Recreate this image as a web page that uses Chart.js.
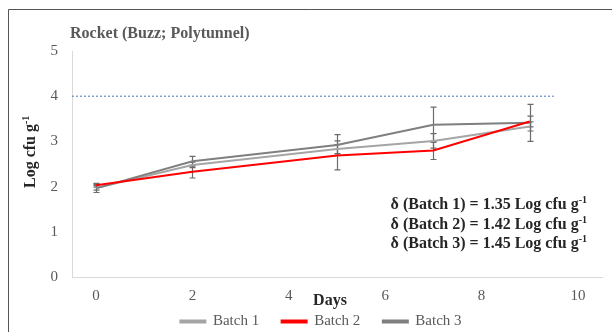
<!DOCTYPE html>
<html>
<head>
<meta charset="utf-8">
<script src="https://cdn.jsdelivr.net/npm/chart.js@4.4.0/dist/chart.umd.min.js"></script>
<style>
  body { margin: 0; background: #fff; }
  #wrap { width: 612px; height: 332px; }
</style>
</head>
<body>
<div id="wrap"><canvas id="rocket"></canvas></div>
<script>
// values
const days = [0, 2, 5, 7, 9];
const batch1 = [1.97, 2.48, 2.83, 3.01, 3.33];
const batch2 = [2.03, 2.33, 2.69, 2.80, 3.44];
const batch3 = [1.96, 2.56, 2.92, 3.37, 3.41];
const err1 = [0.05, 0.06, 0.10, 0.16, 0.10];
const err2 = [0.04, 0.14, 0.32, 0.20, 0.12];
const err3 = [0.09, 0.11, 0.23, 0.39, 0.41];
const seriesNames = ['Batch 1', 'Batch 2', 'Batch 3'];
const deltas = [1.35, 1.42, 1.45];
const limitY = 4;
const limitX = [-0.5, 9.5];
const xTicks = [0, 2, 4, 6, 8, 10];
const yTicks = [0, 1, 2, 3, 4, 5];

const serif = 'Liberation Serif';

function pts(xs, ys) {
  return xs.map((x, i) => ({x: x, y: ys[i]}));
}

function lineSet(label, ys, err, color, order) {
  return {
    label: label,
    data: pts(days, ys),
    errors: err,
    borderColor: color,
    backgroundColor: color,
    borderWidth: 2,
    pointRadius: 0,
    tension: 0,
    order: order
  };
}

// superscripted "g-1" helper
function supText(ctx, main, x, y, size) {
  ctx.font = 'bold ' + size + 'px "' + serif + '"';
  ctx.fillText(main, x, y);
  const w = ctx.measureText(main).width;
  ctx.font = 'bold ' + Math.round(size * 0.62) + 'px "' + serif + '"';
  ctx.fillText('-1', x + w, y - 6);
}

// error bars + text annotations
const extras = {
  id: 'extras',
  beforeDatasetsDraw(chart) {
    const ctx = chart.ctx;
    const xs = chart.scales.x, ys = chart.scales.y;
    ctx.save();
    ctx.strokeStyle = '#6b6b6b';
    ctx.lineWidth = 1.2;
    chart.data.datasets.forEach(ds => {
      if (!ds.errors) return;
      ds.data.forEach((p, i) => {
        const e = ds.errors[i];
        const px = Math.round(xs.getPixelForValue(p.x)) + 0.5;
        const top = ys.getPixelForValue(p.y + e);
        const bot = ys.getPixelForValue(p.y - e);
        ctx.beginPath();
        ctx.moveTo(px, top); ctx.lineTo(px, bot);
        ctx.moveTo(px - 3, top); ctx.lineTo(px + 3, top);
        ctx.moveTo(px - 3, bot); ctx.lineTo(px + 3, bot);
        ctx.stroke();
      });
    });
    ctx.restore();
  },
  afterDraw(chart) {
    const ctx = chart.ctx;
    ctx.save();
    // frame
    ctx.strokeStyle = '#555';
    ctx.lineWidth = 1;
    ctx.beginPath();
    ctx.moveTo(8.5, 332); ctx.lineTo(8.5, 9.5); ctx.lineTo(612, 9.5);
    ctx.stroke();

    // title
    ctx.fillStyle = '#595959';
    ctx.font = 'bold 16px "' + serif + '"';
    ctx.textBaseline = 'alphabetic';
    ctx.textAlign = 'left';
    ctx.fillText('Rocket (Buzz; Polytunnel)', 70, 38);

    // x title
    ctx.fillStyle = '#262626';
    ctx.textAlign = 'center';
    ctx.fillText('Days', 330, 305);

    // y title
    ctx.save();
    ctx.translate(35, 188);
    ctx.rotate(-Math.PI / 2);
    ctx.textAlign = 'left';
    supText(ctx, 'Log cfu g', 0, 0, 16);
    ctx.restore();

    // delta annotations, right aligned
    ctx.textAlign = 'left';
    deltas.forEach((d, i) => {
      const y = 209 + i * 19.5;
      const main = '\u03b4 (' + seriesNames[i] + ') = ' + d.toFixed(2) + ' Log cfu g';
      ctx.font = 'bold 16px "' + serif + '"';
      const mw = ctx.measureText(main).width;
      ctx.font = 'bold 10px "' + serif + '"';
      const sw = ctx.measureText('-1').width;
      supText(ctx, main, 587 - mw - sw, y, 16);
    });
    ctx.restore();
  }
};

const ctx = document.getElementById('rocket').getContext('2d');

new Chart(ctx, {
  type: 'line',
  data: {
    datasets: [
      lineSet(seriesNames[0], batch1, err1, '#a5a5a5', 2),
      lineSet(seriesNames[1], batch2, err2, '#ff0000', 0),
      lineSet(seriesNames[2], batch3, err3, '#7f7f7f', 1),
      {
        label: 'limit',
        data: [{x: limitX[0], y: limitY}, {x: limitX[1], y: limitY}],
        borderColor: '#4472c4',
        borderWidth: 1,
        borderDash: [2, 2],
        pointRadius: 0,
        order: 3
      }
    ]
  },
  options: {
    responsive: true,
    maintainAspectRatio: false,
    animation: false,
    layout: { padding: { top: 51, left: 40, right: 10, bottom: -7 } },
    plugins: {
      legend: {
        position: 'bottom',
        labels: {
          font: { family: serif, size: 15 },
          color: '#595959',
          boxWidth: 25,
          boxHeight: 2,
          padding: 0,
          filter: item => item.text !== 'limit',
          sort: (a, b) => a.datasetIndex - b.datasetIndex,
          generateLabels(chart) {
            const items = Chart.defaults.plugins.legend.labels.generateLabels(chart);
            items.forEach(it => {
              if (it.datasetIndex < 2) it.text = it.text + '      ';
            });
            return items;
          }
        }
      },
      tooltip: { enabled: false }
    },
    scales: {
      x: {
        type: 'linear',
        min: -0.5,
        max: 10.5,
        afterBuildTicks: axis => { axis.ticks = xTicks.map(v => ({value: v})); },
        afterFit: axis => { axis.height = 37; },
        grid: { display: false, drawTicks: false },
        border: { display: true, color: '#d9d9d9', width: 1 },
        ticks: {
          font: { family: serif, size: 15 },
          color: '#595959',
          padding: 10,
          maxRotation: 0
        }
      },
      y: {
        min: 0,
        max: 5,
        afterBuildTicks: axis => { axis.ticks = yTicks.map(v => ({value: v})); },
        afterFit: axis => { axis.width = 32; },
        grid: { display: false, drawTicks: false },
        border: { display: true, color: '#d9d9d9', width: 1 },
        ticks: {
          font: { family: serif, size: 15 },
          color: '#595959',
          padding: 14
        }
      }
    }
  },
  plugins: [extras]
});
</script>
</body>
</html>
